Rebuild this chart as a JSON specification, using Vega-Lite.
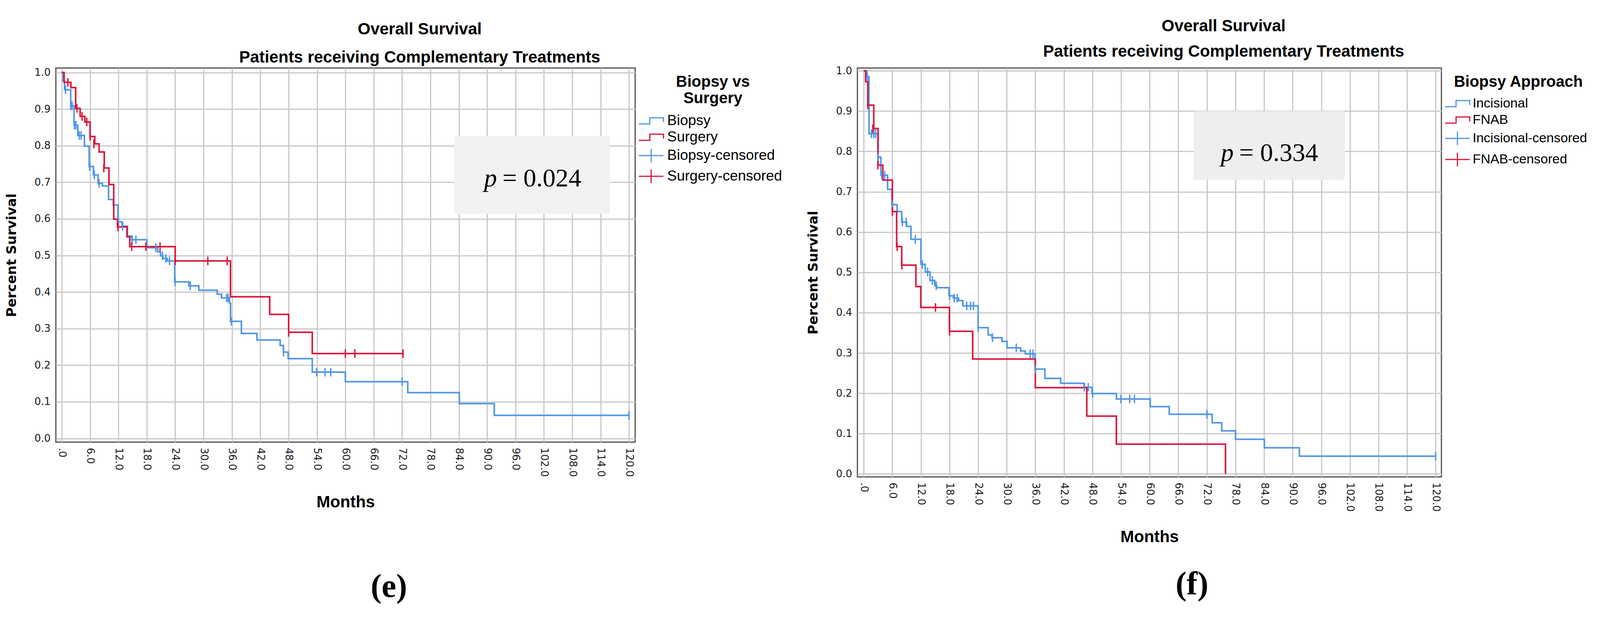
{
  "$schema": "https://vega.github.io/schema/vega-lite/v6.json",
  "background": "white",
  "padding": {"left": 12, "top": 36, "right": 0, "bottom": 0},
  "columns": 2,
  "align": "none",
  "concat": [
    {
      "title": {"text": "(e)", "orient": "bottom", "anchor": "middle", "font": "Liberation Serif", "fontSize": 84, "fontWeight": "bold", "offset": 154, "dx": -20},
      "vconcat": [
        {
          "width": 1483,
          "height": 957,
          "title": {"text": ["", "Overall Survival"], "lineHeight": 16, "subtitle": "Patients receiving Complementary Treatments", "anchor": "middle", "dx": 190, "offset": 4, "subtitlePadding": 30},
          "layer": [
            {
              "data": {"values": [{}]},
              "mark": {"type": "rect", "fill": "#f2f2f2"},
              "encoding": {
                "x": {"datum": 83.06, "type": "quantitative", "scale": {"domain": [-1.24, 121.3], "nice": false, "zero": false},
                  "axis": {"title": "Months", "values": [0, 6, 12, 18, 24, 30, 36, 42, 48, 54, 60, 66, 72, 78, 84, 90, 96, 102, 108, 114, 120], "labelExpr": "datum.value == 0 ? '.0' : format(datum.value, '.1f')"}},
                "x2": {"datum": 115.95},
                "y": {"datum": 0.8253, "type": "quantitative", "scale": {"domain": [-0.0101, 1.0123], "nice": false, "zero": false},
                  "axis": {"title": "Percent Survival", "values": [0, 0.1, 0.2, 0.3, 0.4, 0.5, 0.6, 0.7, 0.8, 0.9, 1.0], "format": ".1f"}},
                "y2": {"datum": 0.6138}
              }
            },
            {
              "data": {"values": [
                {"group": "Biopsy", "t": 0, "s": 1.0}, {"group": "Biopsy", "t": 0.3, "s": 0.977}, {"group": "Biopsy", "t": 0.6, "s": 0.953},
                {"group": "Biopsy", "t": 1.9, "s": 0.909}, {"group": "Biopsy", "t": 2.6, "s": 0.856}, {"group": "Biopsy", "t": 3.4, "s": 0.828},
                {"group": "Biopsy", "t": 4.8, "s": 0.799}, {"group": "Biopsy", "t": 5.8, "s": 0.743}, {"group": "Biopsy", "t": 6.7, "s": 0.72},
                {"group": "Biopsy", "t": 7.7, "s": 0.697}, {"group": "Biopsy", "t": 8.6, "s": 0.69}, {"group": "Biopsy", "t": 9.9, "s": 0.653},
                {"group": "Biopsy", "t": 10.9, "s": 0.638}, {"group": "Biopsy", "t": 11.9, "s": 0.592}, {"group": "Biopsy", "t": 12.8, "s": 0.58},
                {"group": "Biopsy", "t": 13.9, "s": 0.553}, {"group": "Biopsy", "t": 14.8, "s": 0.543}, {"group": "Biopsy", "t": 18.0, "s": 0.521},
                {"group": "Biopsy", "t": 20.3, "s": 0.51}, {"group": "Biopsy", "t": 20.9, "s": 0.499}, {"group": "Biopsy", "t": 21.4, "s": 0.492},
                {"group": "Biopsy", "t": 22.3, "s": 0.485}, {"group": "Biopsy", "t": 23.9, "s": 0.428}, {"group": "Biopsy", "t": 26.9, "s": 0.417},
                {"group": "Biopsy", "t": 29.0, "s": 0.405}, {"group": "Biopsy", "t": 32.9, "s": 0.394}, {"group": "Biopsy", "t": 33.8, "s": 0.384},
                {"group": "Biopsy", "t": 35.5, "s": 0.369}, {"group": "Biopsy", "t": 35.7, "s": 0.32}, {"group": "Biopsy", "t": 38.0, "s": 0.287},
                {"group": "Biopsy", "t": 41.3, "s": 0.269}, {"group": "Biopsy", "t": 46.2, "s": 0.254}, {"group": "Biopsy", "t": 46.9, "s": 0.236},
                {"group": "Biopsy", "t": 47.9, "s": 0.218}, {"group": "Biopsy", "t": 53.0, "s": 0.181}, {"group": "Biopsy", "t": 60.0, "s": 0.155},
                {"group": "Biopsy", "t": 73.2, "s": 0.125}, {"group": "Biopsy", "t": 84.1, "s": 0.095}, {"group": "Biopsy", "t": 91.5, "s": 0.063},
                {"group": "Biopsy", "t": 120.0, "s": 0.063},
                {"group": "Surgery", "t": 0, "s": 1.0}, {"group": "Surgery", "t": 0.5, "s": 0.973}, {"group": "Surgery", "t": 1.95, "s": 0.959},
                {"group": "Surgery", "t": 2.95, "s": 0.902}, {"group": "Surgery", "t": 3.9, "s": 0.88}, {"group": "Surgery", "t": 4.9, "s": 0.865},
                {"group": "Surgery", "t": 6.0, "s": 0.825}, {"group": "Surgery", "t": 7.0, "s": 0.805}, {"group": "Surgery", "t": 7.9, "s": 0.783},
                {"group": "Surgery", "t": 9.0, "s": 0.739}, {"group": "Surgery", "t": 10.0, "s": 0.694}, {"group": "Surgery", "t": 11.0, "s": 0.599},
                {"group": "Surgery", "t": 11.8, "s": 0.578}, {"group": "Surgery", "t": 13.8, "s": 0.551}, {"group": "Surgery", "t": 14.4, "s": 0.524},
                {"group": "Surgery", "t": 24.0, "s": 0.485}, {"group": "Surgery", "t": 35.7, "s": 0.387}, {"group": "Surgery", "t": 44.0, "s": 0.339},
                {"group": "Surgery", "t": 48.0, "s": 0.29}, {"group": "Surgery", "t": 53.0, "s": 0.232}, {"group": "Surgery", "t": 72.2, "s": 0.232}
              ]},
              "mark": {"type": "line", "interpolate": "step-after", "strokeWidth": 4},
              "encoding": {
                "x": {"field": "t", "type": "quantitative", "scale": {"domain": [-1.24, 121.3], "nice": false, "zero": false},
                  "axis": {"title": "Months", "values": [0, 6, 12, 18, 24, 30, 36, 42, 48, 54, 60, 66, 72, 78, 84, 90, 96, 102, 108, 114, 120], "labelExpr": "datum.value == 0 ? '.0' : format(datum.value, '.1f')"}},
                "y": {"field": "s", "type": "quantitative", "scale": {"domain": [-0.0101, 1.0123], "nice": false, "zero": false},
                  "axis": {"title": "Percent Survival", "values": [0, 0.1, 0.2, 0.3, 0.4, 0.5, 0.6, 0.7, 0.8, 0.9, 1.0], "format": ".1f"}},
                "color": {"field": "group", "type": "nominal",
                  "scale": {"domain": ["Biopsy", "Surgery", "Biopsy-censored", "Surgery-censored"], "range": ["#5096e6", "#dc143c", "#5096e6", "#dc143c"]},
                  "legend": {"title": ["Biopsy vs", "Surgery"], "orient": "right", "offset": 4, "padding": 16, "titleAnchor": "middle", "titleLineHeight": 42, "titlePadding": 18, "labelOffset": 22, "rowPadding": 5, "symbolSize": 1225, "symbolStrokeWidth": 3,
                    "encode": {"symbols": {"update": {
                      "shape": {"signal": "indexof(datum.value, 'censored') >= 0 ? 'M-1.8,0H1.8M0,-1V1' : 'M-1.8,0.45H-0.2V-0.45H1.8V0.2V-0.45H-0.2V0.45Z'"}}}}}
                }
              }
            },
            {
              "data": {"values": [
                {"group": "Biopsy-censored", "t": 0.8, "s": 0.953}, {"group": "Biopsy-censored", "t": 1.9, "s": 0.909}, {"group": "Biopsy-censored", "t": 2.2, "s": 0.909},
                {"group": "Biopsy-censored", "t": 2.7, "s": 0.856}, {"group": "Biopsy-censored", "t": 3.0, "s": 0.856}, {"group": "Biopsy-censored", "t": 3.7, "s": 0.828},
                {"group": "Biopsy-censored", "t": 4.1, "s": 0.828}, {"group": "Biopsy-censored", "t": 5.9, "s": 0.743}, {"group": "Biopsy-censored", "t": 6.9, "s": 0.72},
                {"group": "Biopsy-censored", "t": 7.9, "s": 0.697}, {"group": "Biopsy-censored", "t": 12.0, "s": 0.592}, {"group": "Biopsy-censored", "t": 12.9, "s": 0.58},
                {"group": "Biopsy-censored", "t": 14.9, "s": 0.543}, {"group": "Biopsy-censored", "t": 15.7, "s": 0.543}, {"group": "Biopsy-censored", "t": 19.9, "s": 0.521},
                {"group": "Biopsy-censored", "t": 21.3, "s": 0.499}, {"group": "Biopsy-censored", "t": 22.0, "s": 0.492}, {"group": "Biopsy-censored", "t": 22.8, "s": 0.485},
                {"group": "Biopsy-censored", "t": 24.0, "s": 0.428}, {"group": "Biopsy-censored", "t": 27.2, "s": 0.417}, {"group": "Biopsy-censored", "t": 34.9, "s": 0.384},
                {"group": "Biopsy-censored", "t": 35.2, "s": 0.384}, {"group": "Biopsy-censored", "t": 35.9, "s": 0.32}, {"group": "Biopsy-censored", "t": 46.9, "s": 0.236},
                {"group": "Biopsy-censored", "t": 53.9, "s": 0.181}, {"group": "Biopsy-censored", "t": 55.7, "s": 0.181}, {"group": "Biopsy-censored", "t": 56.9, "s": 0.181},
                {"group": "Biopsy-censored", "t": 72.0, "s": 0.155}, {"group": "Biopsy-censored", "t": 120.0, "s": 0.063},
                {"group": "Surgery-censored", "t": 1.3, "s": 0.973}, {"group": "Surgery-censored", "t": 3.2, "s": 0.902}, {"group": "Surgery-censored", "t": 4.3, "s": 0.88},
                {"group": "Surgery-censored", "t": 5.3, "s": 0.865}, {"group": "Surgery-censored", "t": 6.0, "s": 0.825}, {"group": "Surgery-censored", "t": 6.8, "s": 0.805},
                {"group": "Surgery-censored", "t": 8.9, "s": 0.739}, {"group": "Surgery-censored", "t": 11.9, "s": 0.578}, {"group": "Surgery-censored", "t": 14.8, "s": 0.524},
                {"group": "Surgery-censored", "t": 17.8, "s": 0.524}, {"group": "Surgery-censored", "t": 20.8, "s": 0.524}, {"group": "Surgery-censored", "t": 24.0, "s": 0.485},
                {"group": "Surgery-censored", "t": 30.9, "s": 0.485}, {"group": "Surgery-censored", "t": 35.0, "s": 0.485}, {"group": "Surgery-censored", "t": 48.0, "s": 0.29},
                {"group": "Surgery-censored", "t": 60.0, "s": 0.232}, {"group": "Surgery-censored", "t": 62.0, "s": 0.232}, {"group": "Surgery-censored", "t": 72.2, "s": 0.232}
              ]},
              "mark": {"type": "tick", "orient": "vertical", "size": 22, "thickness": 3.5, "opacity": 1},
              "encoding": {
                "x": {"field": "t", "type": "quantitative", "scale": {"domain": [-1.24, 121.3], "nice": false, "zero": false},
                  "axis": {"title": "Months", "values": [0, 6, 12, 18, 24, 30, 36, 42, 48, 54, 60, 66, 72, 78, 84, 90, 96, 102, 108, 114, 120], "labelExpr": "datum.value == 0 ? '.0' : format(datum.value, '.1f')"}},
                "y": {"field": "s", "type": "quantitative", "scale": {"domain": [-0.0101, 1.0123], "nice": false, "zero": false},
                  "axis": {"title": "Percent Survival", "values": [0, 0.1, 0.2, 0.3, 0.4, 0.5, 0.6, 0.7, 0.8, 0.9, 1.0], "format": ".1f"}},
                "color": {"field": "group", "type": "nominal", "scale": {"domain": ["Biopsy", "Surgery", "Biopsy-censored", "Surgery-censored"], "range": ["#5096e6", "#dc143c", "#5096e6", "#dc143c"]}, "legend": null}
              }
            },
            {
              "data": {"values": [{"txt": "p"}]},
              "mark": {"type": "text", "font": "Liberation Serif", "fontStyle": "italic", "fontSize": 66, "align": "right", "dx": -7, "color": "black"},
              "encoding": {
                "x": {"datum": 92.64, "type": "quantitative", "scale": {"domain": [-1.24, 121.3], "nice": false, "zero": false},
                  "axis": {"title": "Months", "values": [0, 6, 12, 18, 24, 30, 36, 42, 48, 54, 60, 66, 72, 78, 84, 90, 96, 102, 108, 114, 120], "labelExpr": "datum.value == 0 ? '.0' : format(datum.value, '.1f')"}},
                "y": {"datum": 0.7095, "type": "quantitative", "scale": {"domain": [-0.0101, 1.0123], "nice": false, "zero": false},
                  "axis": {"title": "Percent Survival", "values": [0, 0.1, 0.2, 0.3, 0.4, 0.5, 0.6, 0.7, 0.8, 0.9, 1.0], "format": ".1f"}},
                "text": {"field": "txt", "type": "nominal"}
              }
            },
            {
              "data": {"values": [{"txt": "= 0.024"}]},
              "mark": {"type": "text", "font": "Liberation Serif", "fontSize": 66, "align": "left", "dx": 7, "color": "black"},
              "encoding": {
                "x": {"datum": 92.64, "type": "quantitative", "scale": {"domain": [-1.24, 121.3], "nice": false, "zero": false},
                  "axis": {"title": "Months", "values": [0, 6, 12, 18, 24, 30, 36, 42, 48, 54, 60, 66, 72, 78, 84, 90, 96, 102, 108, 114, 120], "labelExpr": "datum.value == 0 ? '.0' : format(datum.value, '.1f')"}},
                "y": {"datum": 0.7095, "type": "quantitative", "scale": {"domain": [-0.0101, 1.0123], "nice": false, "zero": false},
                  "axis": {"title": "Percent Survival", "values": [0, 0.1, 0.2, 0.3, 0.4, 0.5, 0.6, 0.7, 0.8, 0.9, 1.0], "format": ".1f"}},
                "text": {"field": "txt", "type": "nominal"}
              }
            }
          ]
        }
      ]
    },
    {
      "title": {"text": "(f)", "orient": "bottom", "anchor": "middle", "font": "Liberation Serif", "fontSize": 84, "fontWeight": "bold", "offset": 59, "dx": -20},
      "vconcat": [
        {
          "width": 1495,
          "height": 1046,
          "title": {"text": "Overall Survival", "subtitle": "Patients receiving Complementary Treatments", "anchor": "middle", "dx": 190, "offset": 14, "subtitlePadding": 23},
          "layer": [
            {
              "data": {"values": [{}]},
              "mark": {"type": "rect", "fill": "#eeeeee"},
              "encoding": {
                "x": {"datum": 69.2, "type": "quantitative", "scale": {"domain": [-1.33, 121.2], "nice": false, "zero": false},
                  "axis": {"title": "Months", "values": [0, 6, 12, 18, 24, 30, 36, 42, 48, 54, 60, 66, 72, 78, 84, 90, 96, 102, 108, 114, 120], "labelExpr": "datum.value == 0 ? '.0' : format(datum.value, '.1f')"}},
                "x2": {"datum": 100.9},
                "y": {"datum": 0.9, "type": "quantitative", "scale": {"domain": [-0.0073, 1.007], "nice": false, "zero": false},
                  "axis": {"title": "Percent Survival", "values": [0, 0.1, 0.2, 0.3, 0.4, 0.5, 0.6, 0.7, 0.8, 0.9, 1.0], "format": ".1f"}},
                "y2": {"datum": 0.73}
              }
            },
            {
              "data": {"values": [
                {"group": "Incisional", "t": 0, "s": 1.0}, {"group": "Incisional", "t": 0.65, "s": 0.985}, {"group": "Incisional", "t": 1.1, "s": 0.844},
                {"group": "Incisional", "t": 2.95, "s": 0.786}, {"group": "Incisional", "t": 3.6, "s": 0.741}, {"group": "Incisional", "t": 5.0, "s": 0.706},
                {"group": "Incisional", "t": 5.9, "s": 0.668}, {"group": "Incisional", "t": 7.0, "s": 0.651}, {"group": "Incisional", "t": 7.95, "s": 0.625},
                {"group": "Incisional", "t": 9.0, "s": 0.614}, {"group": "Incisional", "t": 9.9, "s": 0.582}, {"group": "Incisional", "t": 12.0, "s": 0.52},
                {"group": "Incisional", "t": 12.9, "s": 0.501}, {"group": "Incisional", "t": 13.9, "s": 0.48}, {"group": "Incisional", "t": 14.9, "s": 0.467},
                {"group": "Incisional", "t": 15.3, "s": 0.462}, {"group": "Incisional", "t": 17.9, "s": 0.442}, {"group": "Incisional", "t": 18.8, "s": 0.436},
                {"group": "Incisional", "t": 19.9, "s": 0.43}, {"group": "Incisional", "t": 20.8, "s": 0.417}, {"group": "Incisional", "t": 24.0, "s": 0.363},
                {"group": "Incisional", "t": 26.1, "s": 0.345}, {"group": "Incisional", "t": 26.9, "s": 0.338}, {"group": "Incisional", "t": 29.0, "s": 0.329},
                {"group": "Incisional", "t": 30.05, "s": 0.313}, {"group": "Incisional", "t": 32.9, "s": 0.305}, {"group": "Incisional", "t": 33.9, "s": 0.298},
                {"group": "Incisional", "t": 35.95, "s": 0.26}, {"group": "Incisional", "t": 38.0, "s": 0.237}, {"group": "Incisional", "t": 41.3, "s": 0.225},
                {"group": "Incisional", "t": 46.2, "s": 0.215}, {"group": "Incisional", "t": 47.9, "s": 0.1995}, {"group": "Incisional", "t": 53.0, "s": 0.186},
                {"group": "Incisional", "t": 60.1, "s": 0.167}, {"group": "Incisional", "t": 64.1, "s": 0.148}, {"group": "Incisional", "t": 73.1, "s": 0.127},
                {"group": "Incisional", "t": 75.1, "s": 0.107}, {"group": "Incisional", "t": 78.0, "s": 0.086}, {"group": "Incisional", "t": 84.05, "s": 0.065},
                {"group": "Incisional", "t": 91.4, "s": 0.044}, {"group": "Incisional", "t": 120.0, "s": 0.044},
                {"group": "FNAB", "t": 0, "s": 1.0}, {"group": "FNAB", "t": 0.4, "s": 0.973}, {"group": "FNAB", "t": 0.85, "s": 0.915},
                {"group": "FNAB", "t": 2.1, "s": 0.857}, {"group": "FNAB", "t": 3.0, "s": 0.766}, {"group": "FNAB", "t": 4.0, "s": 0.729},
                {"group": "FNAB", "t": 6.0, "s": 0.651}, {"group": "FNAB", "t": 6.9, "s": 0.564}, {"group": "FNAB", "t": 7.96, "s": 0.518},
                {"group": "FNAB", "t": 10.94, "s": 0.465}, {"group": "FNAB", "t": 11.97, "s": 0.413}, {"group": "FNAB", "t": 17.98, "s": 0.354},
                {"group": "FNAB", "t": 22.86, "s": 0.285}, {"group": "FNAB", "t": 36.0, "s": 0.214}, {"group": "FNAB", "t": 46.8, "s": 0.1435},
                {"group": "FNAB", "t": 53.0, "s": 0.074}, {"group": "FNAB", "t": 75.9, "s": 0.0}
              ]},
              "mark": {"type": "line", "interpolate": "step-after", "strokeWidth": 4},
              "encoding": {
                "x": {"field": "t", "type": "quantitative", "scale": {"domain": [-1.33, 121.2], "nice": false, "zero": false},
                  "axis": {"title": "Months", "values": [0, 6, 12, 18, 24, 30, 36, 42, 48, 54, 60, 66, 72, 78, 84, 90, 96, 102, 108, 114, 120], "labelExpr": "datum.value == 0 ? '.0' : format(datum.value, '.1f')"}},
                "y": {"field": "s", "type": "quantitative", "scale": {"domain": [-0.0073, 1.007], "nice": false, "zero": false},
                  "axis": {"title": "Percent Survival", "values": [0, 0.1, 0.2, 0.3, 0.4, 0.5, 0.6, 0.7, 0.8, 0.9, 1.0], "format": ".1f"}},
                "color": {"field": "group", "type": "nominal",
                  "scale": {"domain": ["Incisional", "FNAB", "Incisional-censored", "FNAB-censored"], "range": ["#5096e6", "#dc143c", "#5096e6", "#dc143c"]},
                  "legend": {"title": "Biopsy Approach", "orient": "right", "offset": 4, "padding": 16, "titleAnchor": "middle", "titleLineHeight": 42, "titlePadding": 16, "labelOffset": 20, "labelFontSize": 34, "rowPadding": 6, "symbolSize": 1225, "symbolStrokeWidth": 3,
                    "encode": {"symbols": {"update": {
                      "shape": {"signal": "indexof(datum.value, 'censored') >= 0 ? 'M-1.8,0H1.8M0,-1V1' : 'M-1.8,0.45H-0.2V-0.45H1.8V0.2V-0.45H-0.2V0.45Z'"}}}}}
                }
              }
            },
            {
              "data": {"values": [
                {"group": "Incisional-censored", "t": 0.75, "s": 0.985}, {"group": "Incisional-censored", "t": 1.6, "s": 0.844}, {"group": "Incisional-censored", "t": 2.1, "s": 0.844},
                {"group": "Incisional-censored", "t": 2.5, "s": 0.844}, {"group": "Incisional-censored", "t": 3.0, "s": 0.786}, {"group": "Incisional-censored", "t": 3.8, "s": 0.741},
                {"group": "Incisional-censored", "t": 4.4, "s": 0.741}, {"group": "Incisional-censored", "t": 6.03, "s": 0.668}, {"group": "Incisional-censored", "t": 8.1, "s": 0.625},
                {"group": "Incisional-censored", "t": 8.9, "s": 0.625}, {"group": "Incisional-censored", "t": 10.8, "s": 0.582}, {"group": "Incisional-censored", "t": 12.3, "s": 0.52},
                {"group": "Incisional-censored", "t": 13.4, "s": 0.501}, {"group": "Incisional-censored", "t": 14.4, "s": 0.48}, {"group": "Incisional-censored", "t": 15.2, "s": 0.467},
                {"group": "Incisional-censored", "t": 18.0, "s": 0.442}, {"group": "Incisional-censored", "t": 19.0, "s": 0.436}, {"group": "Incisional-censored", "t": 19.6, "s": 0.436},
                {"group": "Incisional-censored", "t": 21.6, "s": 0.417}, {"group": "Incisional-censored", "t": 22.4, "s": 0.417}, {"group": "Incisional-censored", "t": 23.0, "s": 0.417},
                {"group": "Incisional-censored", "t": 24.0, "s": 0.363}, {"group": "Incisional-censored", "t": 27.0, "s": 0.338}, {"group": "Incisional-censored", "t": 32.0, "s": 0.313},
                {"group": "Incisional-censored", "t": 34.9, "s": 0.298}, {"group": "Incisional-censored", "t": 35.5, "s": 0.298}, {"group": "Incisional-censored", "t": 36.0, "s": 0.26},
                {"group": "Incisional-censored", "t": 46.3, "s": 0.215}, {"group": "Incisional-censored", "t": 47.1, "s": 0.215}, {"group": "Incisional-censored", "t": 48.0, "s": 0.1995},
                {"group": "Incisional-censored", "t": 53.95, "s": 0.186}, {"group": "Incisional-censored", "t": 55.8, "s": 0.186}, {"group": "Incisional-censored", "t": 56.8, "s": 0.186},
                {"group": "Incisional-censored", "t": 72.0, "s": 0.148}, {"group": "Incisional-censored", "t": 120.0, "s": 0.044},
                {"group": "FNAB-censored", "t": 0.85, "s": 0.915}, {"group": "FNAB-censored", "t": 1.9, "s": 0.857}, {"group": "FNAB-censored", "t": 2.95, "s": 0.766},
                {"group": "FNAB-censored", "t": 6.0, "s": 0.651}, {"group": "FNAB-censored", "t": 7.0, "s": 0.564}, {"group": "FNAB-censored", "t": 8.0, "s": 0.518},
                {"group": "FNAB-censored", "t": 15.05, "s": 0.413}, {"group": "FNAB-censored", "t": 18.0, "s": 0.354}
              ]},
              "mark": {"type": "tick", "orient": "vertical", "size": 22, "thickness": 3.5, "opacity": 1},
              "encoding": {
                "x": {"field": "t", "type": "quantitative", "scale": {"domain": [-1.33, 121.2], "nice": false, "zero": false},
                  "axis": {"title": "Months", "values": [0, 6, 12, 18, 24, 30, 36, 42, 48, 54, 60, 66, 72, 78, 84, 90, 96, 102, 108, 114, 120], "labelExpr": "datum.value == 0 ? '.0' : format(datum.value, '.1f')"}},
                "y": {"field": "s", "type": "quantitative", "scale": {"domain": [-0.0073, 1.007], "nice": false, "zero": false},
                  "axis": {"title": "Percent Survival", "values": [0, 0.1, 0.2, 0.3, 0.4, 0.5, 0.6, 0.7, 0.8, 0.9, 1.0], "format": ".1f"}},
                "color": {"field": "group", "type": "nominal", "scale": {"domain": ["Incisional", "FNAB", "Incisional-censored", "FNAB-censored"], "range": ["#5096e6", "#dc143c", "#5096e6", "#dc143c"]}, "legend": null}
              }
            },
            {
              "data": {"values": [{"txt": "p"}]},
              "mark": {"type": "text", "font": "Liberation Serif", "fontStyle": "italic", "fontSize": 66, "align": "right", "dx": -7, "color": "black"},
              "encoding": {
                "x": {"datum": 78.2, "type": "quantitative", "scale": {"domain": [-1.33, 121.2], "nice": false, "zero": false},
                  "axis": {"title": "Months", "values": [0, 6, 12, 18, 24, 30, 36, 42, 48, 54, 60, 66, 72, 78, 84, 90, 96, 102, 108, 114, 120], "labelExpr": "datum.value == 0 ? '.0' : format(datum.value, '.1f')"}},
                "y": {"datum": 0.7955, "type": "quantitative", "scale": {"domain": [-0.0073, 1.007], "nice": false, "zero": false},
                  "axis": {"title": "Percent Survival", "values": [0, 0.1, 0.2, 0.3, 0.4, 0.5, 0.6, 0.7, 0.8, 0.9, 1.0], "format": ".1f"}},
                "text": {"field": "txt", "type": "nominal"}
              }
            },
            {
              "data": {"values": [{"txt": "= 0.334"}]},
              "mark": {"type": "text", "font": "Liberation Serif", "fontSize": 66, "align": "left", "dx": 7, "color": "black"},
              "encoding": {
                "x": {"datum": 78.2, "type": "quantitative", "scale": {"domain": [-1.33, 121.2], "nice": false, "zero": false},
                  "axis": {"title": "Months", "values": [0, 6, 12, 18, 24, 30, 36, 42, 48, 54, 60, 66, 72, 78, 84, 90, 96, 102, 108, 114, 120], "labelExpr": "datum.value == 0 ? '.0' : format(datum.value, '.1f')"}},
                "y": {"datum": 0.7955, "type": "quantitative", "scale": {"domain": [-0.0073, 1.007], "nice": false, "zero": false},
                  "axis": {"title": "Percent Survival", "values": [0, 0.1, 0.2, 0.3, 0.4, 0.5, 0.6, 0.7, 0.8, 0.9, 1.0], "format": ".1f"}},
                "text": {"field": "txt", "type": "nominal"}
              }
            }
          ]
        }
      ]
    }
  ],
  "spacing": 45,
  "resolve": {"scale": {"color": "independent", "x": "independent", "y": "independent"}, "legend": {"color": "independent"}},
  "config": {
    "font": "Liberation Sans",
    "view": {"stroke": "#4d4d4d", "strokeWidth": 3},
    "axis": {"domain": false, "ticks": false, "grid": true, "gridColor": "#c8c8c8", "gridWidth": 3, "labelFont": "DejaVu Sans", "labelFontSize": 26, "labelColor": "#1a1a1a", "labelPadding": 14, "titleColor": "black", "labelOverlap": false, "labelFlush": false, "labelBound": false},
    "axisX": {"titleFont": "Liberation Sans", "titleFontSize": 42, "titleFontWeight": "bold", "titlePadding": 45, "labelAngle": 90, "labelAlign": "left", "labelBaseline": "middle"},
    "axisY": {"titleFont": "DejaVu Sans", "titleFontSize": 34, "titleFontWeight": "bold", "titlePadding": 40},
    "legend": {"titleFont": "Liberation Sans", "titleFontSize": 40, "titleFontWeight": "bold", "titleColor": "black", "labelFont": "Liberation Sans", "labelFontSize": 37, "labelColor": "black", "labelLimit": 0, "titleLimit": 0},
    "title": {"font": "Liberation Sans", "fontSize": 42, "fontWeight": "bold", "color": "black", "subtitleFont": "Liberation Sans", "subtitleFontSize": 42, "subtitleFontWeight": "bold", "subtitleColor": "black"}
  }
}
